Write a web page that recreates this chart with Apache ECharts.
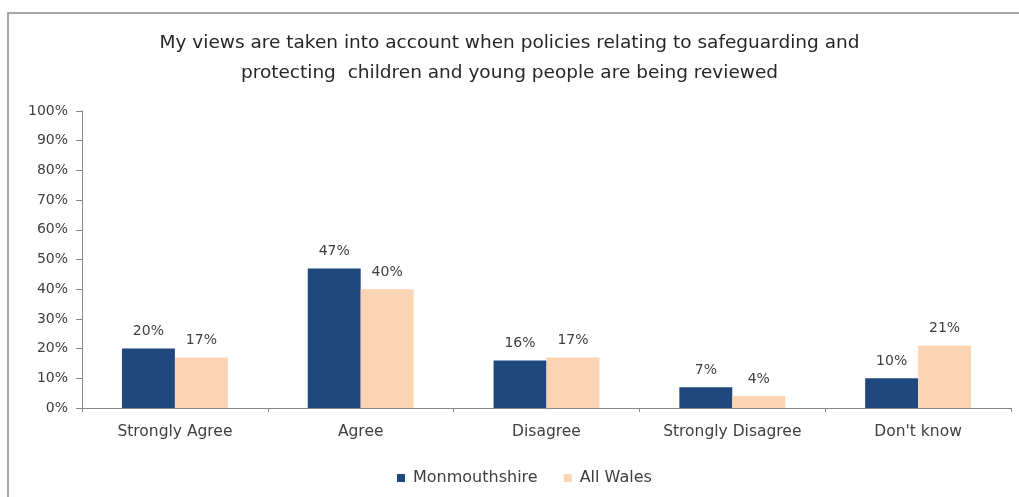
<!DOCTYPE html>
<html>
<head>
<meta charset="utf-8">
<script src="https://cdn.jsdelivr.net/npm/echarts@6/dist/echarts.min.js"></script>
<style>
  html, body { margin: 0; padding: 0; background: #ffffff; }
  #chart { width: 1019px; height: 497px; }
</style>
</head>
<body>
<div id="chart"></div>
<script>
const titleLines = [
  'My views are taken into account when policies relating to safeguarding and',
  'protecting  children and young people are being reviewed'
];
const categories = ['Strongly Agree', 'Agree', 'Disagree', 'Strongly Disagree', "Don't know"];
const monmouthshire = [20, 47, 16, 7, 10];
const allWales = [17, 40, 17, 4, 21];
const seriesNames = ['Monmouthshire', 'All Wales'];

const FONT = 'DejaVu Sans';
const chart = echarts.init(document.getElementById('chart'), null, { renderer: 'canvas' });

const labelStyle = {
  show: true,
  position: 'top',
  distance: 10,
  formatter: p => p.value + '%',
  color: '#404040',
  fontFamily: FONT,
  fontSize: 14
};

chart.setOption({
  animation: false,
  backgroundColor: '#ffffff',
  graphic: [{
    type: 'rect',
    shape: { x: 8, y: 13, width: 1040, height: 520 },
    style: { fill: 'none', stroke: '#8c8c8c', lineWidth: 1.5 },
    silent: true
  }],
  title: {
    text: titleLines.join('\n'),
    left: 'center',
    top: 23,
    textStyle: {
      fontFamily: FONT,
      fontSize: 18.5,
      fontWeight: 'normal',
      color: '#262626',
      lineHeight: 30
    }
  },
  legend: {
    top: 465,
    left: 392,
    itemWidth: 8,
    itemHeight: 8,
    itemGap: 26,
    icon: 'rect',
    textStyle: { fontFamily: FONT, fontSize: 16, color: '#404040', padding: [0, 0, 0, 3] },
    data: seriesNames
  },
  grid: { left: 82, right: 8, top: 111, bottom: 89, containLabel: false },
  xAxis: {
    type: 'category',
    data: categories,
    axisLine: { lineStyle: { color: '#868686', width: 1 } },
    axisTick: { show: true, length: 4, lineStyle: { color: '#868686' } },
    axisLabel: { fontFamily: FONT, fontSize: 15.5, color: '#404040', margin: 16 }
  },
  yAxis: {
    type: 'value',
    min: 0,
    max: 100,
    interval: 10,
    axisLine: { show: true, lineStyle: { color: '#868686', width: 1 } },
    axisTick: { show: true, length: 6, lineStyle: { color: '#868686' } },
    splitLine: { show: false },
    axisLabel: {
      fontFamily: FONT,
      fontSize: 14,
      color: '#404040',
      margin: 14,
      formatter: v => v + '%'
    }
  },
  series: [
    {
      name: seriesNames[0],
      type: 'bar',
      data: monmouthshire,
      barGap: '0%',
      barCategoryGap: '43%',
      itemStyle: { color: '#1F497D' },
      label: labelStyle
    },
    {
      name: seriesNames[1],
      type: 'bar',
      data: allWales,
      barGap: '0%',
      barCategoryGap: '43%',
      itemStyle: { color: '#FBD4B4' },
      label: labelStyle
    }
  ]
});
</script>
</body>
</html>
